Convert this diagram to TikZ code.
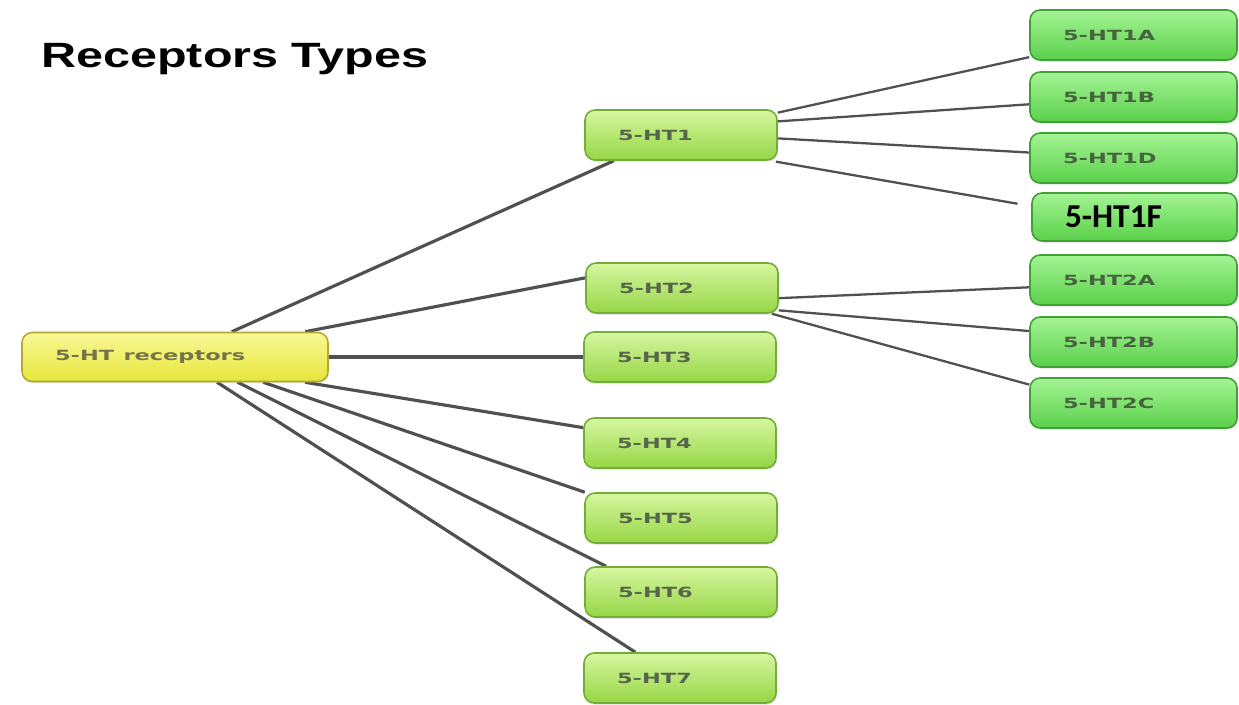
\documentclass[tikz,border=0pt]{standalone}
\usepackage{fontspec}
\setmainfont{Liberation Sans}
\newfontfamily\boxfont{DejaVu Sans}
\newfontfamily\calfont{Carlito}
\usetikzlibrary{shadows,backgrounds}
\definecolor{roottop}{HTML}{F8F898}
\definecolor{rootbot}{HTML}{E6E63A}
\definecolor{rootedge}{HTML}{B8A830}
\definecolor{roottext}{HTML}{74744A}
\definecolor{subtop}{HTML}{D6F6A0}
\definecolor{subbot}{HTML}{96D646}
\definecolor{subedge}{HTML}{74AC38}
\definecolor{subtext}{HTML}{56664A}
\definecolor{leaftop}{HTML}{A4F494}
\definecolor{leafbot}{HTML}{5AD04A}
\definecolor{leafedge}{HTML}{40A036}
\definecolor{leaftext}{HTML}{46623E}
\definecolor{linkgray}{HTML}{505050}
% stretched label text inside the boxes
\newcommand{\lbl}[1]{{\boxfont\bfseries\fontsize{8}{9}\selectfont\scalebox{1.6}[1]{#1}}}

\begin{document}
\begin{tikzpicture}[x=0.02cm,y=-0.02cm,
    box/.style={rounded corners=0.2cm,minimum height=1cm,inner xsep=0.66cm,inner ysep=0pt,
      align=left,line width=0.9pt,
      drop shadow={opacity=0.25,shadow xshift=0.6pt,shadow yshift=-0.9pt}},
    rootbox/.style={box,draw=rootedge,top color=roottop,bottom color=rootbot,
      text width=4.8cm,minimum height=0.98cm,text=roottext},
    subbox/.style={box,draw=subedge,top color=subtop,bottom color=subbot,
      text width=2.52cm,text=subtext},
    leafbox/.style={box,draw=leafedge,top color=leaftop,bottom color=leafbot,
      text width=2.82cm,text=leaftext},
    link/.style={draw=linkgray,line width=1.8pt},
    twig/.style={draw=linkgray,line width=1.3pt}]
  \useasboundingbox (0,0) rectangle (1239,705);

  \node (title) [anchor=base west,inner sep=0pt] at (41,68)
    {\fontsize{20}{24}\selectfont\bfseries\scalebox{1.38}[1]{Receptors Types}};

  % root and first level
  \node (rec) [rootbox] at (175,357) {\lbl{5-HT receptors}};
  \node (ht1) [subbox] at (681,135) {\lbl{5-HT1}};
  \node (ht2) [subbox] at (682,288) {\lbl{5-HT2}};
  \node (ht3) [subbox] at (680,357) {\lbl{5-HT3}};
  \node (ht4) [subbox] at (680,443) {\lbl{5-HT4}};
  \node (ht5) [subbox] at (681,518) {\lbl{5-HT5}};
  \node (ht6) [subbox] at (681,592) {\lbl{5-HT6}};
  \node (ht7) [subbox] at (680,678) {\lbl{5-HT7}};

  % subtypes
  \node (ht1a) [leafbox] at (1133.5,35) {\lbl{5-HT1A}};
  \node (ht1b) [leafbox] at (1133.5,97) {\lbl{5-HT1B}};
  \node (ht1d) [leafbox] at (1133.5,158) {\lbl{5-HT1D}};
  \node (ht1f) [leafbox,minimum height=0.96cm,text width=2.78cm,text=black] at (1134.5,217)
    {\calfont\bfseries\fontsize{19}{20}\selectfont 5-HT1F};
  \node (ht2a) [leafbox] at (1133.5,280) {\lbl{5-HT2A}};
  \node (ht2b) [leafbox] at (1133.5,342) {\lbl{5-HT2B}};
  \node (ht2c) [leafbox] at (1133.5,403) {\lbl{5-HT2C}};

  \begin{scope}[on background layer]
    \draw [link] (rec.24) -- (ht1.-159);
    \draw [link] (rec.11) -- (ht2.174);
    \draw [link] (rec.east) -- (ht3.west);
    \draw [link] (rec.-11) -- (ht4.171);
    \draw [link] (rec.-16) -- (ht5.165);
    \draw [link] (rec.-22) -- (ht6.161);
    \draw [link] (rec.-31) -- (ht7.150);

    \draw [twig] (ht1.13) -- (ht1a.-168);
    \draw [twig] (ht1.8) -- (ht1b.-176);
    \draw [twig] (ht1.-2) -- (ht1d.177);
    \draw [twig,shorten <=0.1cm,shorten >=0.28cm] (ht1.-16) -- (ht1f.174);
    \draw [twig] (ht2.-6) -- (ht2a.-176);
    \draw [twig] (ht2.-13) -- (ht2b.174);
    \draw [twig] (ht2.-16) -- (ht2c.170);
  \end{scope}
\end{tikzpicture}
\end{document}
